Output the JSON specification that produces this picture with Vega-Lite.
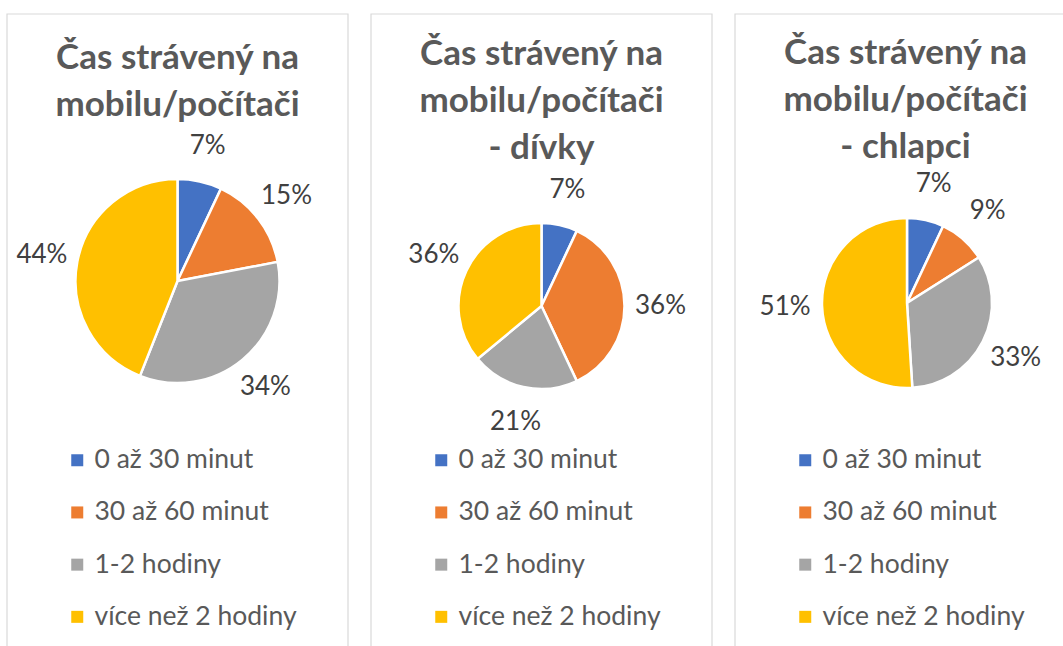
{
  "$schema": "https://vega.github.io/schema/vega-lite/v6.json",
  "padding": {"left": 6, "top": 13, "right": 0, "bottom": 0},
  "spacing": 23,
  "bounds": "flush",
  "background": "white",
  "config": {"view": {"stroke": "#d9d9d9", "strokeWidth": 1}, "font": "Lato"},
  "datasets": {
    "d1": [
      {"kat": "0 až 30 minut", "k": 1, "v": 0.07},
      {"kat": "30 až 60 minut", "k": 2, "v": 0.15},
      {"kat": "1-2 hodiny", "k": 3, "v": 0.34},
      {"kat": "více než 2 hodiny", "k": 4, "v": 0.44}
    ],
    "d2": [
      {"kat": "0 až 30 minut", "k": 1, "v": 0.07},
      {"kat": "30 až 60 minut", "k": 2, "v": 0.36},
      {"kat": "1-2 hodiny", "k": 3, "v": 0.21},
      {"kat": "více než 2 hodiny", "k": 4, "v": 0.36}
    ],
    "d3": [
      {"kat": "0 až 30 minut", "k": 1, "v": 0.07},
      {"kat": "30 až 60 minut", "k": 2, "v": 0.09},
      {"kat": "1-2 hodiny", "k": 3, "v": 0.33},
      {"kat": "více než 2 hodiny", "k": 4, "v": 0.51}
    ],
    "frame": [{"ramec": 1}]
  },
  "resolve": {"scale": {"color": "independent", "theta": "independent"}, "legend": {"color": "independent"}},
  "hconcat": [
    {
      "width": 341, "height": 650,
      "title": {"text": ["Čas strávený na", "mobilu/počítači"], "font": "Lato", "fontSize": 35, "fontWeight": "bold", "color": "#595959", "lineHeight": 47, "anchor": "middle", "frame": "group", "offset": -110},
      "layer": [
        {
          "data": {"name": "frame"},
          "mark": {"type": "rect", "fill": "transparent", "stroke": "#d9d9d9", "strokeWidth": 1.2},
          "encoding": {}
        },
        {
          "data": {"name": "d1"},
          "mark": {"type": "arc", "outerRadius": 102, "stroke": "white", "strokeWidth": 2.5, "x": 170.5, "y": 267},
          "encoding": {
            "theta": {"field": "v", "type": "quantitative", "stack": true},
            "order": {"field": "k", "type": "quantitative"},
            "color": {"field": "kat", "type": "nominal",
              "scale": {"domain": ["0 až 30 minut", "30 až 60 minut", "1-2 hodiny", "více než 2 hodiny"], "range": ["#4472C4", "#ED7D31", "#A5A5A5", "#FFC000"]},
              "legend": {"title": null, "orient": "none", "legendX": 57, "legendY": 433, "symbolType": "square", "symbolSize": 144, "symbolStrokeWidth": 0, "labelFont": "Lato", "labelFontSize": 26.5, "labelColor": "#595959", "labelOffset": 4, "rowPadding": 25.2, "padding": 0, "labelLimit": 400}
            }
          }
        },
        {
          "data": {"name": "d1"},
          "mark": {"type": "text", "radius": 138, "x": 170.5, "y": 267, "font": "Lato", "fontSize": 26, "color": "#404040"},
          "encoding": {
            "theta": {"field": "v", "type": "quantitative", "stack": true},
            "order": {"field": "k", "type": "quantitative"},
            "text": {"field": "v", "type": "quantitative", "format": ".0%"}
          }
        }
      ]
    },
    {
      "width": 341, "height": 650,
      "title": {"text": ["Čas strávený na", "mobilu/počítači", "- dívky"], "font": "Lato", "fontSize": 35, "fontWeight": "bold", "color": "#595959", "lineHeight": 47, "anchor": "middle", "frame": "group", "offset": -153},
      "layer": [
        {
          "data": {"name": "frame"},
          "mark": {"type": "rect", "fill": "transparent", "stroke": "#d9d9d9", "strokeWidth": 1.2},
          "encoding": {}
        },
        {
          "data": {"name": "d2"},
          "mark": {"type": "arc", "outerRadius": 83, "stroke": "white", "strokeWidth": 2.5, "x": 170.5, "y": 292},
          "encoding": {
            "theta": {"field": "v", "type": "quantitative", "stack": true},
            "order": {"field": "k", "type": "quantitative"},
            "color": {"field": "kat", "type": "nominal",
              "scale": {"domain": ["0 až 30 minut", "30 až 60 minut", "1-2 hodiny", "více než 2 hodiny"], "range": ["#4472C4", "#ED7D31", "#A5A5A5", "#FFC000"]},
              "legend": {"title": null, "orient": "none", "legendX": 57, "legendY": 433, "symbolType": "square", "symbolSize": 144, "symbolStrokeWidth": 0, "labelFont": "Lato", "labelFontSize": 26.5, "labelColor": "#595959", "labelOffset": 4, "rowPadding": 25.2, "padding": 0, "labelLimit": 400}
            }
          }
        },
        {
          "data": {"name": "d2"},
          "mark": {"type": "text", "radius": 119, "x": 170.5, "y": 292, "font": "Lato", "fontSize": 26, "color": "#404040"},
          "encoding": {
            "theta": {"field": "v", "type": "quantitative", "stack": true},
            "order": {"field": "k", "type": "quantitative"},
            "text": {"field": "v", "type": "quantitative", "format": ".0%"}
          }
        }
      ]
    },
    {
      "width": 341, "height": 650,
      "title": {"text": ["Čas strávený na", "mobilu/počítači", "- chlapci"], "font": "Lato", "fontSize": 35, "fontWeight": "bold", "color": "#595959", "lineHeight": 47, "anchor": "middle", "frame": "group", "offset": -152},
      "layer": [
        {
          "data": {"name": "frame"},
          "mark": {"type": "rect", "fill": "transparent", "stroke": "#d9d9d9", "strokeWidth": 1.2},
          "encoding": {}
        },
        {
          "data": {"name": "d3"},
          "mark": {"type": "arc", "outerRadius": 85, "stroke": "white", "strokeWidth": 2.5, "x": 172, "y": 289},
          "encoding": {
            "theta": {"field": "v", "type": "quantitative", "stack": true},
            "order": {"field": "k", "type": "quantitative"},
            "color": {"field": "kat", "type": "nominal",
              "scale": {"domain": ["0 až 30 minut", "30 až 60 minut", "1-2 hodiny", "více než 2 hodiny"], "range": ["#4472C4", "#ED7D31", "#A5A5A5", "#FFC000"]},
              "legend": {"title": null, "orient": "none", "legendX": 57, "legendY": 433, "symbolType": "square", "symbolSize": 144, "symbolStrokeWidth": 0, "labelFont": "Lato", "labelFontSize": 26.5, "labelColor": "#595959", "labelOffset": 4, "rowPadding": 25.2, "padding": 0, "labelLimit": 400}
            }
          }
        },
        {
          "data": {"name": "d3"},
          "mark": {"type": "text", "radius": 122, "x": 172, "y": 289, "font": "Lato", "fontSize": 26, "color": "#404040"},
          "encoding": {
            "theta": {"field": "v", "type": "quantitative", "stack": true},
            "order": {"field": "k", "type": "quantitative"},
            "text": {"field": "v", "type": "quantitative", "format": ".0%"}
          }
        }
      ]
    }
  ]
}
